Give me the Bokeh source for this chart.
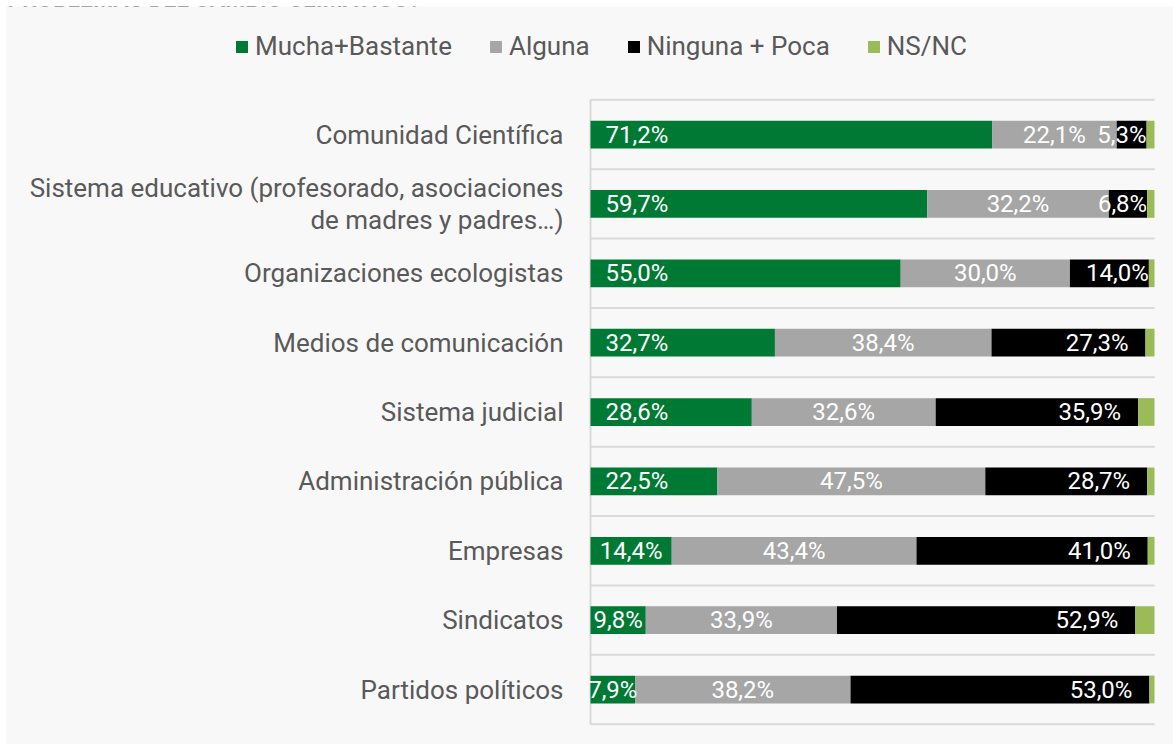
from bokeh.plotting import figure
from bokeh.models import Range1d, Legend, LegendItem, Label
from bokeh.core.properties import value
from bokeh.embed import file_html
from bokeh.resources import INLINE

title_text = "PROBLEMAS DEL CAMBIO CLIMÁTICO?"
categories = [
    "Comunidad Científica",
    "Sistema educativo (profesorado, asociaciones\nde madres y padres…)",
    "Organizaciones ecologistas",
    "Medios de comunicación",
    "Sistema judicial",
    "Administración pública",
    "Empresas",
    "Sindicatos",
    "Partidos políticos",
]
series_names = ["Mucha+Bastante", "Alguna", "Ninguna + Poca", "NS/NC"]
mucha = [71.2, 59.7, 55.0, 32.7, 28.6, 22.5, 14.4, 9.8, 7.9]
alguna = [22.1, 32.2, 30.0, 38.4, 32.6, 47.5, 43.4, 33.9, 38.2]
ninguna = [5.3, 6.8, 14.0, 27.3, 35.9, 28.7, 41.0, 52.9, 53.0]
nsnc = [1.4, 1.3, 1.0, 1.6, 2.9, 1.3, 1.2, 3.4, 0.9]
colors = ["#007934", "#a6a6a6", "#000000", "#9bbb59"]

# ---- layout constants (pixels) ----
W, H = 1173, 744
ML, MT = 6, 6                 # white strip left / top
FW, FH = W - ML, H - MT       # frame size
PX = 5.64                     # pixels per percentage point
X0 = 584                      # frame x of 0 %
ROW = 69.375                  # pixels per category row
Y0 = 128                      # frame y of first category center
BG = "#f8f8f8"
FONT_NAME = "Roboto"
FONT = value(FONT_NAME)
TXT = "#595959"

x_range = Range1d(-X0 / PX, (FW - X0) / PX)
y_range = Range1d((FH - Y0) / ROW, -Y0 / ROW)

p = figure(width=W, height=H, x_range=x_range, y_range=y_range,
           output_backend="svg", toolbar_location=None,
           x_axis_location=None, y_axis_location=None,
           min_border=0, min_border_left=ML, min_border_top=MT,
           outline_line_color=None,
           background_fill_color=BG, border_fill_color="white")
p.grid.visible = False

n = len(categories)
ys = list(range(n))

# category separators and axis line
bounds = [i - 0.5 for i in range(n + 1)]
p.segment(x0=[0] * len(bounds), x1=[100] * len(bounds), y0=bounds, y1=bounds,
          line_color="#d9d9d9", line_width=2)
p.segment(x0=[0], x1=[0], y0=[bounds[0]], y1=[bounds[-1]],
          line_color="#d9d9d9", line_width=2)

series = [mucha, alguna, ninguna, nsnc]
lefts = [0.0] * n
renderers = []
seg_bounds = []
for vals, col in zip(series, colors):
    rights = [l + v for l, v in zip(lefts, vals)]
    r = p.hbar(y=ys, left=lefts, right=rights, height=0.40,
               fill_color=col, line_color=None)
    renderers.append(r)
    seg_bounds.append((list(lefts), rights))
    lefts = rights

def fmt(v):
    return f"{v:.1f}".replace(".", ",") + "%"

LBL = dict(text_baseline="middle", text_color="white",
           text_font=FONT, text_font_size="24px")
NARROW = 18.0
# green labels: inside base (centered if narrow)
gl, gr = seg_bounds[0]
wide = [i for i in range(n) if mucha[i] >= NARROW]
narrow = [i for i in range(n) if mucha[i] < NARROW]
p.text(x=[gl[i] for i in wide], y=[ys[i] for i in wide],
       text=[fmt(mucha[i]) for i in wide], x_offset=15,
       text_align="left", **LBL)
p.text(x=[(gl[i] + gr[i]) / 2 for i in narrow], y=[ys[i] for i in narrow],
       text=[fmt(mucha[i]) for i in narrow], text_align="center", **LBL)
# gray labels: centered
al, ar = seg_bounds[1]
p.text(x=[(a + b) / 2 for a, b in zip(al, ar)], y=ys,
       text=[fmt(v) for v in alguna], text_align="center", **LBL)
# black labels: inside end
bl, br = seg_bounds[2]
wide = [i for i in range(n) if ninguna[i] >= NARROW]
narrow = [i for i in range(n) if ninguna[i] < NARROW]
p.text(x=[br[i] for i in wide], y=[ys[i] for i in wide],
       text=[fmt(ninguna[i]) for i in wide], x_offset=-17,
       text_align="right", **LBL)
p.text(x=[br[i] for i in narrow], y=[ys[i] for i in narrow],
       text=[fmt(ninguna[i]) for i in narrow], x_offset=0,
       text_align="right", **LBL)

# category labels
p.text(x=[0] * n, y=ys, text=categories, x_offset=-27,
       text_align="right", text_baseline="middle", text_color=TXT,
       text_font=FONT, text_font_size="26px", text_line_height=1.05)

legend = Legend(items=[LegendItem(label=nm, renderers=[r])
                       for nm, r in zip(series_names, renderers)],
                orientation="horizontal", location=(228, 683),
                glyph_width=15, glyph_height=15, label_standoff=6,
                spacing=36, padding=0, margin=0,
                border_line_color=None, background_fill_alpha=0,
                label_text_font=FONT_NAME, label_text_font_size="26px",
                label_text_color=TXT)
p.add_layout(legend)

# title cut off at the top edge of the picture (as in the reference)
p.add_layout(Label(x=1, y=FH + 7, x_units="screen", y_units="screen",
                   text=title_text, text_font=FONT_NAME, text_font_size="23px",
                   text_font_style="bold", text_color=TXT,
                   text_baseline="alphabetic", text_align="left"))

open("out.html", "w").write(file_html(p, INLINE))
